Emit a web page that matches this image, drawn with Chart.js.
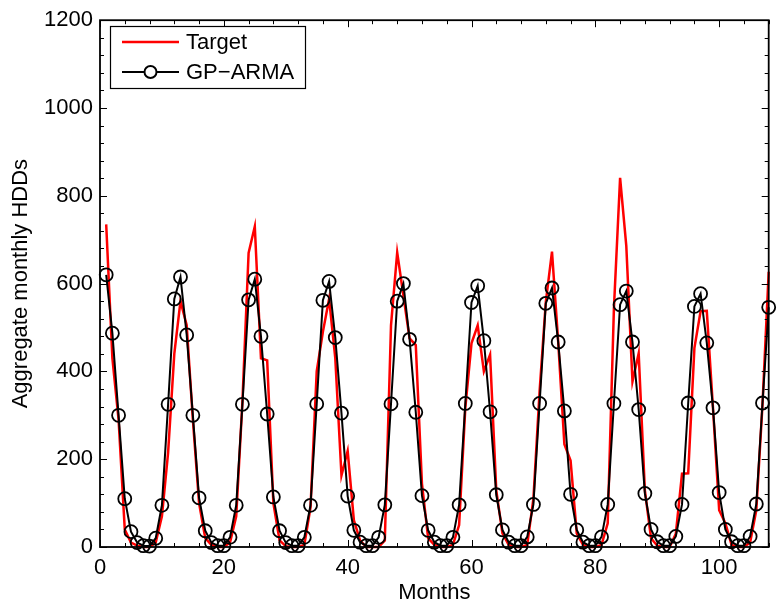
<!DOCTYPE html>
<html>
<head>
<meta charset="utf-8">
<script src="https://cdn.jsdelivr.net/npm/chart.js@4.4.1/dist/chart.umd.min.js"></script>
<style>
  html, body { margin: 0; padding: 0; background: #fff; }
  #wrap { width: 777px; height: 610px; position: relative; }
</style>
</head>
<body>
<div id="wrap"><canvas id="c" width="777" height="610"></canvas></div>
<script>
// ---- data ----
const months = Array.from({length: 108}, (_, i) => i + 1);

const targetHDD = [
  735, 430, 290, 40, 10, 3, 0, 0, 10, 70, 215, 440,
  560, 505, 290, 100, 20, 5, 0, 0, 10, 70, 330, 670,
  730, 430, 425, 100, 15, 2, 0, 0, 5, 90, 400, 490,
  565, 430, 163, 219, 61, 15, 0, 0, 0, 15, 505, 671,
  573, 475, 460, 144, 20, 5, 0, 0, 5, 50, 317, 464,
  505, 400, 438, 129, 31, 5, 0, 0, 5, 110, 355, 558,
  673, 468, 234, 197, 31, 5, 0, 0, 5, 54, 543, 841,
  686, 377, 441, 129, 20, 3, 0, 0, 30, 167, 168, 453,
  537, 538, 317, 84, 54, 5, 0, 0, 10, 84, 325, 627
];

const gpArmaHDD = [
  620, 487, 300, 110, 35, 10, 3, 2, 20, 95, 325, 565,
  615, 483, 300, 112, 37, 10, 3, 3, 22, 95, 325, 563,
  610, 480, 303, 114, 37, 10, 3, 3, 22, 95, 326, 562,
  605, 477, 305, 116, 38, 11, 3, 3, 22, 96, 326, 560,
  600, 473, 307, 117, 38, 11, 3, 3, 22, 96, 327, 557,
  595, 470, 308, 119, 39, 11, 3, 3, 23, 97, 327, 555,
  590, 467, 310, 120, 39, 11, 3, 3, 23, 97, 327, 552,
  583, 467, 313, 122, 40, 12, 3, 3, 24, 97, 328, 548,
  577, 465, 317, 124, 40, 12, 3, 3, 24, 98, 328, 546
];

const seriesLabels = ['Target', 'GP\u2212ARMA'];
const xTitle = 'Months';
const yTitle = 'Aggregate monthly HDDs';

// ---- chart ----
const FONT = '"Liberation Sans", Arial, Helvetica, sans-serif';

const boxTicks = {
  id: 'boxTicks',
  afterDatasetsDraw(chart) {
    const {ctx, chartArea: a, scales: {x, y}} = chart;
    ctx.save();
    ctx.strokeStyle = '#000';
    // ticks
    ctx.beginPath();
    for (let v = 0; v <= 108; v += 4) {
      const px = Math.round(x.getPixelForValue(v)) + 0.5;
      const len = (v % 20 === 0) ? 7 : 4;
      ctx.moveTo(px, a.bottom); ctx.lineTo(px, a.bottom - len);
      ctx.moveTo(px, a.top); ctx.lineTo(px, a.top + len);
    }
    for (let v = 0; v <= 1200; v += 40) {
      const py = Math.round(y.getPixelForValue(v)) + 0.5;
      const len = (v % 200 === 0) ? 7 : 4;
      ctx.moveTo(a.left, py); ctx.lineTo(a.left + len, py);
      ctx.moveTo(a.right, py); ctx.lineTo(a.right - len, py);
    }
    ctx.lineWidth = 1;
    ctx.stroke();
    ctx.lineWidth = 1.8;
    ctx.strokeRect(a.left, a.top, a.right - a.left, a.bottom - a.top);

    // legend
    const lx = 110, ly = 26, lw = 195, lh = 62;
    ctx.fillStyle = '#fff';
    ctx.fillRect(lx, ly, lw, lh);
    ctx.lineWidth = 1.2;
    ctx.strokeRect(lx + 0.5, ly + 0.5, lw, lh);
    ctx.font = '22px ' + FONT;
    ctx.textBaseline = 'middle';
    ctx.textAlign = 'left';
    ctx.fillStyle = '#000';
    // row 1
    ctx.strokeStyle = '#ff0000';
    ctx.lineWidth = 2.5;
    ctx.beginPath(); ctx.moveTo(122, 42); ctx.lineTo(179, 42); ctx.stroke();
    ctx.fillText(chart.data.datasets[0].label, 186, 43);
    // row 2
    ctx.strokeStyle = '#000';
    ctx.lineWidth = 2;
    ctx.beginPath(); ctx.moveTo(122, 72); ctx.lineTo(179, 72); ctx.stroke();
    ctx.fillStyle = '#fff';
    ctx.beginPath(); ctx.arc(150.5, 72, 6, 0, Math.PI * 2); ctx.fill(); ctx.stroke();
    ctx.fillStyle = '#000';
    ctx.fillText(chart.data.datasets[1].label, 186, 73);
    ctx.restore();
  }
};

new Chart(document.getElementById('c'), {
  type: 'line',
  data: {
    labels: months,
    datasets: [
      {
        label: seriesLabels[0],
        data: months.map((m, i) => ({x: m, y: targetHDD[i]})),
        borderColor: '#ff0000',
        borderWidth: 2.5,
        pointRadius: 0,
        tension: 0,
        fill: false,
        clip: false,
        order: 2
      },
      {
        label: seriesLabels[1],
        data: months.map((m, i) => ({x: m, y: gpArmaHDD[i]})),
        borderColor: '#000',
        borderWidth: 2,
        pointRadius: 6.5,
        pointBorderWidth: 1.8,
        pointBorderColor: '#000',
        pointBackgroundColor: 'rgba(0,0,0,0)',
        tension: 0,
        fill: false,
        clip: false,
        order: 1
      }
    ]
  },
  options: {
    responsive: false,
    animation: false,
    devicePixelRatio: 1,
    layout: { padding: { top: 16, right: 5, left: 0, bottom: 0 } },
    plugins: { legend: { display: false }, tooltip: { enabled: false } },
    scales: {
      x: {
        type: 'linear',
        min: 0, max: 108,
        grid: { display: false, drawTicks: false },
        border: { display: false },
        ticks: {
          stepSize: 20, includeBounds: false, autoSkip: false, maxRotation: 0,
          padding: 8, color: '#000', font: { family: FONT, size: 22 },
          callback: v => String(v)
        },
        title: { display: true, text: xTitle, color: '#000', font: { family: FONT, size: 22 }, padding: { top: 0, bottom: 4 } },
        afterFit(s) { s.height = 63; }
      },
      y: {
        type: 'linear',
        min: 0, max: 1200,
        grid: { display: false, drawTicks: false },
        border: { display: false },
        ticks: {
          stepSize: 200, autoSkip: false,
          padding: 7, color: '#000', font: { family: FONT, size: 22 },
          callback: v => String(v)
        },
        title: { display: true, text: yTitle, color: '#000', font: { family: FONT, size: 22 }, padding: { top: 8, bottom: 0 } },
        afterFit(s) { s.width = 100; }
      }
    }
  },
  plugins: [boxTicks]
});
</script>
</body>
</html>
